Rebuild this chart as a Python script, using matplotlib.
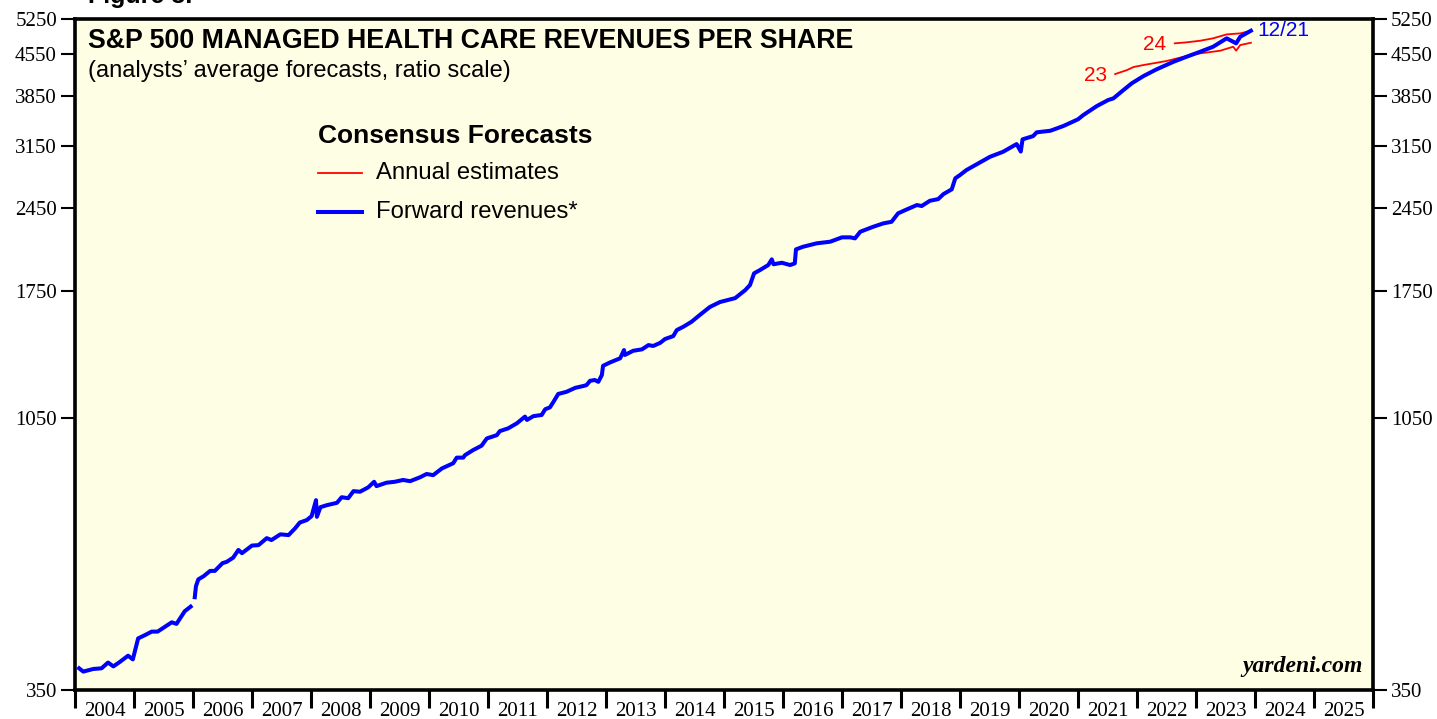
import matplotlib
matplotlib.use("Agg")
import matplotlib.pyplot as plt
import numpy as np
from matplotlib.ticker import FixedLocator, NullFormatter, NullLocator

# Forward revenues per share (decimal year, value); NaN marks the gap at end of 2005
fwd_dates = [2004.07, 2004.14, 2004.31, 2004.45, 2004.56, 2004.65, 2004.76, 2004.90, 2004.98,
             2005.07, 2005.19, 2005.30, 2005.40, 2005.50, 2005.64, 2005.72, 2005.86, 2005.96,
             2006.00,
             2006.03, 2006.05, 2006.09, 2006.18, 2006.29, 2006.37, 2006.50, 2006.57, 2006.68,
             2006.77, 2006.83, 2007.00, 2007.11, 2007.25, 2007.33, 2007.48, 2007.62, 2007.73,
             2007.81, 2007.93, 2008.01, 2008.085, 2008.10, 2008.16, 2008.27, 2008.44, 2008.52,
             2008.63, 2008.72, 2008.83, 2008.97, 2009.07, 2009.11, 2009.28, 2009.42, 2009.56,
             2009.68, 2009.85, 2009.96, 2010.07, 2010.22, 2010.41, 2010.47, 2010.58, 2010.61,
             2010.75, 2010.89, 2010.98, 2011.15, 2011.20, 2011.34, 2011.49, 2011.627, 2011.66,
             2011.77, 2011.91, 2011.97, 2012.05, 2012.11, 2012.19, 2012.33, 2012.48, 2012.62,
             2012.67, 2012.73, 2012.81, 2012.87, 2012.93, 2012.95, 2013.07, 2013.24, 2013.305,
             2013.32, 2013.46, 2013.61, 2013.72, 2013.80, 2013.92, 2014.00, 2014.14, 2014.20,
             2014.31, 2014.45, 2014.59, 2014.76, 2014.93, 2015.19, 2015.36, 2015.44, 2015.51,
             2015.61, 2015.75, 2015.81, 2015.84, 2015.98, 2016.12, 2016.20, 2016.22, 2016.34,
             2016.57, 2016.80, 2017.00, 2017.14, 2017.22, 2017.31, 2017.53, 2017.70, 2017.84,
             2017.95, 2018.10, 2018.27, 2018.35, 2018.49, 2018.63, 2018.72, 2018.86, 2018.92,
             2019.00, 2019.11, 2019.31, 2019.51, 2019.73, 2019.96, 2020.03, 2020.06, 2020.24,
             2020.30, 2020.53, 2020.75, 2021.00, 2021.09, 2021.32, 2021.51, 2021.60, 2021.77,
             2021.91, 2022.11, 2022.33, 2022.62, 2022.84, 2023.07, 2023.29, 2023.52, 2023.68,
             2023.75, 2023.93]
fwd_values = [382, 377, 381, 382, 391, 385, 392, 402, 396,
              431, 437, 443, 443, 450, 460, 457, 481, 490,
              np.nan,
              509, 532, 547, 554, 566, 566, 584, 587, 597,
              616, 608, 627, 628, 646, 641, 656, 654, 672,
              688, 695, 706, 753, 704, 732, 738, 745, 762,
              759, 781, 779, 793, 811, 797, 808, 811, 817,
              813, 826, 837, 833, 856, 874, 894, 894, 903,
              922, 938, 966, 979, 995, 1006, 1027, 1055, 1041,
              1057, 1062, 1087, 1095, 1120, 1156, 1166, 1185, 1194,
              1198, 1219, 1223, 1214, 1248, 1295, 1313, 1335, 1380,
              1353, 1376, 1384, 1408, 1403, 1421, 1443, 1460, 1496,
              1516, 1547, 1590, 1642, 1675, 1702, 1758, 1794, 1881,
              1906, 1945, 1990, 1951, 1963, 1945, 1958, 2072, 2094,
              2123, 2137, 2175, 2175, 2166, 2225, 2270, 2301, 2316,
              2396, 2435, 2478, 2468, 2521, 2538, 2590, 2640, 2760,
              2797, 2854, 2932, 3011, 3072, 3169, 3075, 3230, 3273,
              3323, 3344, 3408, 3502, 3563, 3695, 3785, 3811, 3941,
              4049, 4170, 4284, 4418, 4508, 4600, 4694, 4856, 4759,
              4887, 5007]

# Annual consensus estimates
est23_dates = [2021.63, 2021.83, 2021.94, 2022.11, 2022.50, 2022.84, 2023.07, 2023.41,
               2023.63, 2023.68, 2023.75, 2023.93]
est23_values = [4204, 4272, 4325, 4360, 4431, 4521, 4570, 4619, 4694, 4620, 4726, 4770]
est24_dates = [2022.64, 2022.84, 2023.07, 2023.29, 2023.52, 2023.75, 2023.93]
est24_values = [4759, 4778, 4809, 4856, 4934, 4954, 5007]

ytick_vals = [350, 1050, 1750, 2450, 3150, 3850, 4550, 5250]
years = list(range(2004, 2026))

fig = plt.figure(figsize=(14.37, 7.19), dpi=100)
ax = fig.add_axes([75 / 1437, 1 - 690 / 719, 1298 / 1437, 671 / 719])
ax.set_facecolor("#fefee4")

ax.plot(est23_dates, est23_values, color="#ff0000", lw=1.3, zorder=2)
ax.plot(est24_dates, est24_values, color="#ff0000", lw=1.3, zorder=2)
ax.plot(fwd_dates, fwd_values, color="#0000ff", lw=2.9, zorder=3)

ax.set_yscale("log")
ax.set_ylim(350, 5250)
ax.set_xlim(2004, 2026)

serif = "Liberation Serif"
sans = "Liberation Sans"

ax.yaxis.set_major_locator(FixedLocator(ytick_vals))
ax.yaxis.set_minor_locator(NullLocator())
ax.set_yticklabels([str(v) for v in ytick_vals])
ax.yaxis.set_minor_formatter(NullFormatter())
ax.tick_params(axis="y", which="major", left=True, right=True, labelleft=True,
               labelright=True, direction="out", length=10, width=1.5,
               labelsize=15, pad=3)
for lbl in ax.get_yticklabels():
    lbl.set_fontfamily(serif)

# year boundaries as ticks, year labels centred between them
ax.xaxis.set_major_locator(FixedLocator(years + [2026]))
ax.xaxis.set_major_formatter(NullFormatter())
ax.xaxis.set_minor_locator(FixedLocator([y + 0.5 for y in years]))
ax.set_xticklabels([str(y) for y in years], minor=True)
ax.tick_params(axis="x", which="major", direction="out", length=13, width=2.2)
ax.tick_params(axis="x", which="minor", length=0, pad=9, labelsize=15)
for lbl in ax.get_xticklabels(minor=True):
    lbl.set_fontfamily(serif)

for s in ax.spines.values():
    s.set_linewidth(2.6)
    s.set_color("black")

# titles
fig.text(88 / 1437, 1 - 3 / 719, "Figure 3.", fontsize=18, fontweight="bold",
         family=sans, va="baseline")
ax.text(0.010, 0.967, "S&P 500 MANAGED HEALTH CARE REVENUES PER SHARE", transform=ax.transAxes,
        fontsize=19.3, fontweight="bold", family=sans, va="center")
ax.text(0.010, 0.923, "(analysts\u2019 average forecasts, ratio scale)", transform=ax.transAxes,
        fontsize=17, family=sans, va="center")

# legend drawn by hand
ax.text(0.187, 0.825, "Consensus Forecasts", transform=ax.transAxes, fontsize=19,
        fontweight="bold", family=sans, va="center")
ax.plot([0.187, 0.221], [0.77, 0.77], transform=ax.transAxes, color="#ff0000", lw=1.3)
ax.text(0.232, 0.77, "Annual estimates", transform=ax.transAxes, fontsize=17.2,
        family=sans, va="center")
ax.plot([0.187, 0.221], [0.712, 0.712], transform=ax.transAxes, color="#0000ff", lw=2.9)
ax.text(0.232, 0.712, "Forward revenues*", transform=ax.transAxes, fontsize=17.2,
        family=sans, va="center")

# series labels
ax.annotate("23", (est23_dates[0], est23_values[0]), xytext=(-6, -1),
            textcoords="offset points", ha="right", va="center", color="#ff0000",
            fontsize=15, family=sans)
ax.annotate("24", (est24_dates[0], est24_values[0]), xytext=(-6, -1),
            textcoords="offset points", ha="right", va="center", color="#ff0000",
            fontsize=15, family=sans)
ax.annotate("12/21", (fwd_dates[-1], fwd_values[-1]), xytext=(5, 0),
            textcoords="offset points", ha="left", va="center", color="#0000ff",
            fontsize=15, family=sans)

ax.text(0.992, 0.02, "yardeni.com", transform=ax.transAxes, ha="right", va="bottom",
        fontsize=17, fontweight="bold", fontstyle="italic", family=serif)

fig.savefig("out.png", dpi=100)
